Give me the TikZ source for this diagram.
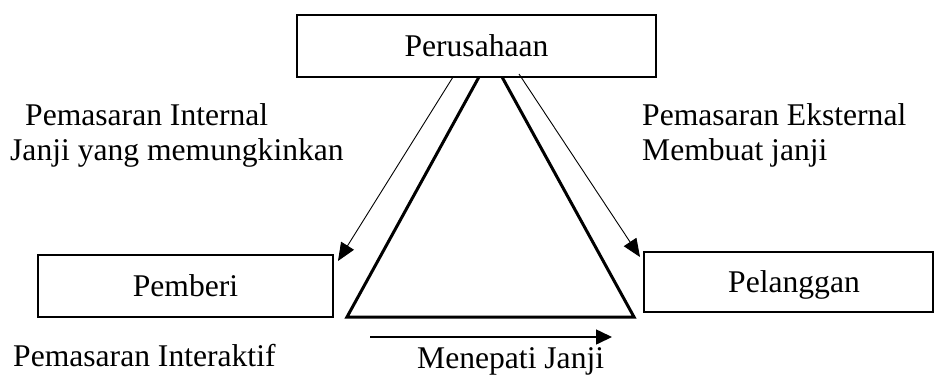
\documentclass[tikz,border=0pt]{standalone}
\usepackage{fontspec}
\setmainfont{Liberation Serif}
\usetikzlibrary{arrows.meta}

\begin{document}
\begin{tikzpicture}[x=1pt,y=-1pt,
  every node/.style={font=\fontsize{31.6}{35}\selectfont},
  box/.style={draw, line width=2.6pt, fill=white, inner sep=0pt,
              text height=21pt, text depth=0pt},
  lbl/.style={anchor=base west, inner sep=0pt},
  side/.style={line width=3pt, line join=miter},
  flow/.style={line width=0.9pt, -{Triangle[length=18pt,width=15pt]}},
  keep/.style={line width=1.6pt, -{Triangle[length=16pt,width=15pt]}}]

  \useasboundingbox (0,0) rectangle (935,376);

  % triangle (apex is hidden behind the top box)
  \coordinate (apex) at (490.5,56);
  \coordinate (bl) at (347,317);
  \coordinate (br) at (634,317);
  \draw[side] (apex) -- (bl) -- (br) -- cycle;

  % the three parties
  \node[box, minimum width=359pt, minimum height=62pt] (firm) at (476.5,46) {Perusahaan};
  \node[box, minimum width=295pt, minimum height=62pt] (staff) at (185.5,286) {Pemberi};
  \node[box, minimum width=289pt, minimum height=60pt] (cust) at (788.5,282) {\hspace*{11pt}Pelanggan};

  % marketing flows
  \coordinate (intA) at (453,77);
  \coordinate (intB) at (338,261);
  \coordinate (extA) at (519,74);
  \coordinate (extB) at (640,257);
  \draw[flow] (intA) -- (intB);
  \draw[flow] (extA) -- (extB);

  \coordinate (keepA) at (370,337);
  \coordinate (keepB) at (612,337);
  \draw[keep] (keepA) -- (keepB);

  % captions
  \node[lbl] (intT1) at (25,125) {Pemasaran Internal};
  \node[lbl] (intT2) at (10,160) {Janji yang memungkinkan};
  \node[lbl] (extT1) at (642,125) {Pemasaran Eksternal};
  \node[lbl] (extT2) at (642,160) {Membuat janji};
  \node[lbl] (iaT) at (13,366) {Pemasaran Interaktif};
  \node[lbl] (mjT) at (417,368) {Menepati Janji};
\end{tikzpicture}
\end{document}
